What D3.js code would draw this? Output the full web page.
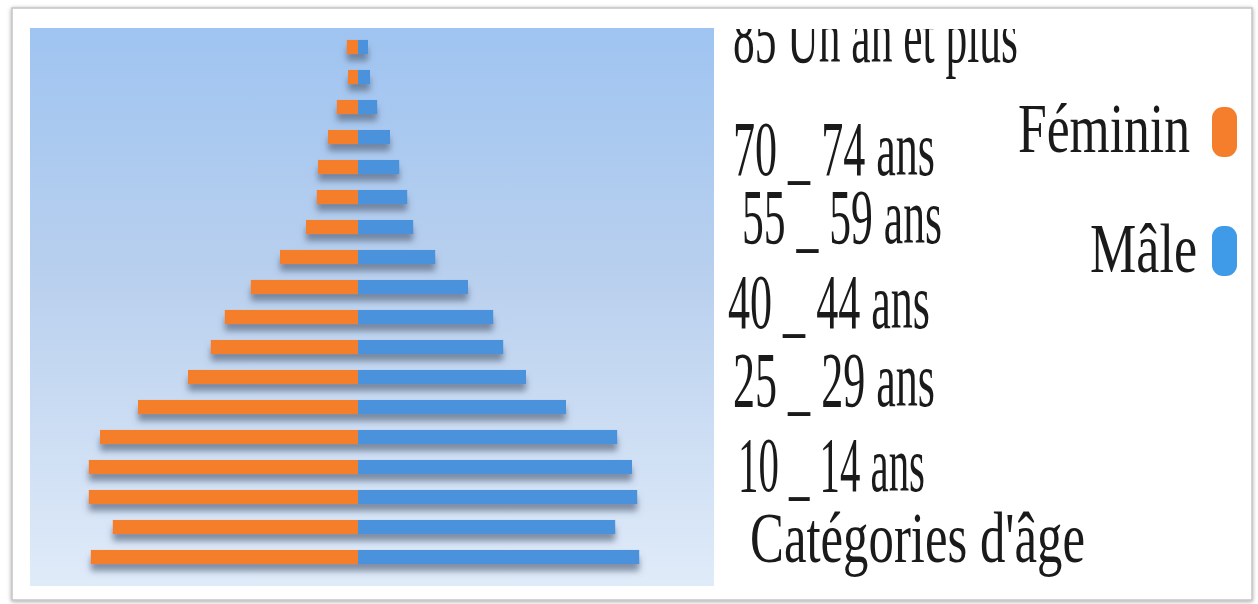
<!DOCTYPE html>
<html>
<head>
<meta charset="utf-8">
<script src="https://cdn.jsdelivr.net/npm/d3@7"></script>
<style>
    body { margin: 0; background: #ffffff; }
    svg { display: block; }
</style>
</head>
<body>
<div id="chart"></div>
<script>
// Age groups, youngest first
var ageGroups = ["0 - 4 ans", "5 - 9 ans", "10 _ 14 ans", "15 - 19 ans", "20 - 24 ans", "25 _ 29 ans",
    "30 - 34 ans", "35 - 39 ans", "40 _ 44 ans", "45 - 49 ans", "50 - 54 ans", "55 _ 59 ans",
    "60 - 64 ans", "65 - 69 ans", "70 _ 74 ans", "75 - 79 ans", "80 - 84 ans", "85 Un an et plus"];

// Share of population (%)
var feminin = [6.68, 6.13, 6.73, 6.73, 6.45, 5.5, 4.25, 3.68, 3.33, 2.68, 1.95, 1.3, 1.03, 1.0, 0.75, 0.53, 0.25, 0.28];
var male = [7.03, 6.43, 6.98, 6.85, 6.48, 5.2, 4.2, 3.63, 3.38, 2.75, 1.93, 1.38, 1.23, 1.03, 0.8, 0.48, 0.3, 0.25];

// Only some categories carry a label
var tickLabels = ["85 Un an et plus", "70 _ 74 ans", "55 _ 59 ans", "40 _ 44 ans", "25 _ 29 ans", "10 _ 14 ans"];
var axisTitle = "Catégories d'âge";
var seriesNames = ["Féminin", "Mâle"];

function init() {
    var w = 1258, h = 604;
    var panel = { x0: 30, x1: 714, y0: 28, y1: 586 };

    var orange = "#f47e2b";
    var blue = "#4b92dc";

    var svg = d3.select("#chart").append("svg")
        .attr("width", w)
        .attr("height", h);

    var defs = svg.append("defs");

    var grad = defs.append("linearGradient")
        .attr("id", "bg")
        .attr("x1", 0).attr("y1", 0).attr("x2", 0).attr("y2", 1);
    grad.append("stop").attr("offset", "0%").attr("stop-color", "#9fc4f1");
    grad.append("stop").attr("offset", "45%").attr("stop-color", "#b9d0ee");
    grad.append("stop").attr("offset", "100%").attr("stop-color", "#e0ebf9");

    var shadow = defs.append("filter").attr("id", "shadow")
        .attr("x", "-10%").attr("y", "-50%").attr("width", "120%").attr("height", "250%");
    shadow.append("feDropShadow")
        .attr("dx", 0).attr("dy", 7)
        .attr("stdDeviation", 3)
        .attr("flood-color", "#5a6880")
        .attr("flood-opacity", 0.7);

    var frameShadow = defs.append("filter").attr("id", "frameShadow")
        .attr("x", "-5%").attr("y", "-5%").attr("width", "110%").attr("height", "110%");
    frameShadow.append("feDropShadow")
        .attr("dx", 0).attr("dy", 1)
        .attr("stdDeviation", 2)
        .attr("flood-color", "#000")
        .attr("flood-opacity", 0.35);

    defs.append("clipPath").attr("id", "textClip")
        .append("rect")
        .attr("x", 700).attr("y", 29).attr("width", 550).attr("height", 570);

    // Outer card
    svg.append("rect")
        .attr("x", 12).attr("y", 8)
        .attr("width", 1240).attr("height", 592)
        .attr("fill", "#ffffff")
        .attr("stroke", "#c4c4c4")
        .attr("stroke-width", 1.5)
        .attr("filter", "url(#frameShadow)");

    // Plot background
    svg.append("rect")
        .attr("x", panel.x0).attr("y", panel.y0)
        .attr("width", panel.x1 - panel.x0)
        .attr("height", panel.y1 - panel.y0)
        .attr("fill", "url(#bg)");

    // Scales
    var xScale = d3.scaleLinear()
        .domain([-8.2, 8.9])
        .range([panel.x0, panel.x0 + 17.1 * 40]);

    var yScale = d3.scaleBand()
        .domain(ageGroups.slice().reverse())
        .range([32, 572])
        .paddingInner(0.53)
        .paddingOuter(0.265);

    var rows = ageGroups.map(function (g, i) {
        return { group: g, f: feminin[i], m: male[i] };
    });

    var bars = svg.append("g").attr("filter", "url(#shadow)");

    bars.selectAll("rect.f")
        .data(rows)
        .enter().append("rect")
        .attr("class", "f")
        .attr("x", d => xScale(-d.f))
        .attr("y", d => yScale(d.group))
        .attr("width", d => xScale(0) - xScale(-d.f))
        .attr("height", yScale.bandwidth())
        .attr("fill", orange);

    bars.selectAll("rect.m")
        .data(rows)
        .enter().append("rect")
        .attr("class", "m")
        .attr("x", xScale(0))
        .attr("y", d => yScale(d.group))
        .attr("width", d => xScale(d.m) - xScale(0))
        .attr("height", yScale.bandwidth())
        .attr("fill", blue);

    // Category labels (the original block drifts a little from the bar rows)
    var labelPos = {
        "85 Un an et plus": { x: 733, dy: 15, len: 285 },
        "70 _ 74 ans": { x: 733, dy: 38, len: 202 },
        "55 _ 59 ans": { x: 742, dy: 16, len: 200 },
        "40 _ 44 ans": { x: 728, dy: 11, len: 202 },
        "25 _ 29 ans": { x: 733, dy: -1, len: 202 },
        "10 _ 14 ans": { x: 738, dy: -6, len: 187 }
    };

    var labels = svg.append("g")
        .attr("clip-path", "url(#textClip)")
        .style("font-family", "'Liberation Serif', 'Times New Roman', serif")
        .style("font-size", "78px")
        .attr("fill", "#1a1a1a");

    labels.selectAll("text")
        .data(tickLabels)
        .enter().append("text")
        .attr("x", d => labelPos[d].x)
        .attr("y", d => yScale(d) + yScale.bandwidth() / 2 + labelPos[d].dy)
        .attr("textLength", d => labelPos[d].len)
        .attr("lengthAdjust", "spacingAndGlyphs")
        .text(d => d);

    labels.append("text")
        .attr("x", 750)
        .attr("y", 562)
        .attr("textLength", 335)
        .attr("lengthAdjust", "spacingAndGlyphs")
        .style("font-size", "72px")
        .text(axisTitle);

    // Legend
    var legend = [
        { name: seriesNames[0], color: orange, x: 1018, y: 152, len: 172, my: 107 },
        { name: seriesNames[1], color: "#3f9ae8", x: 1090, y: 272, len: 107, my: 226 }
    ];

    var lg = svg.append("g")
        .style("font-family", "'Liberation Serif', 'Times New Roman', serif")
        .style("font-size", "70px");

    lg.selectAll("text")
        .data(legend)
        .enter().append("text")
        .attr("x", d => d.x)
        .attr("y", d => d.y)
        .attr("textLength", d => d.len)
        .attr("lengthAdjust", "spacingAndGlyphs")
        .attr("fill", "#1a1a1a")
        .text(d => d.name);

    lg.selectAll("rect")
        .data(legend)
        .enter().append("rect")
        .attr("x", 1212)
        .attr("y", d => d.my)
        .attr("width", 25)
        .attr("height", 50)
        .attr("rx", 11)
        .attr("fill", d => d.color);
}

window.onload = init;
</script>
</body>
</html>
